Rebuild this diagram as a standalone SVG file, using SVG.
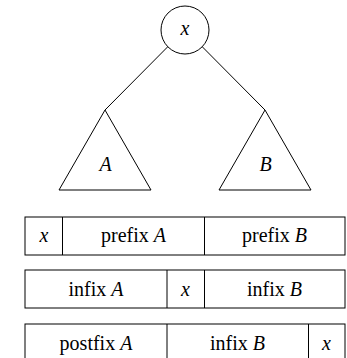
<svg xmlns="http://www.w3.org/2000/svg" width="347" height="358" viewBox="0 0 347 358" font-family="Liberation Serif, serif" font-size="20" text-anchor="middle">
<style>
.s{fill:none;stroke:#000;stroke-width:1}
.i{font-style:italic}
</style>
<rect width="347" height="358" fill="#fff"/>
<g id="connectors">
<line class="s" x1="105" y1="110" x2="167.5" y2="47"/>
<line class="s" x1="265" y1="110" x2="202.5" y2="47"/>
</g>
<g id="root">
<circle class="s" cx="185" cy="30" r="24"/>
<text class="i" x="185" y="35">x</text>
</g>
<g id="treeA">
<polygon class="s" points="105,110 59,190 151,190"/>
<text class="i" x="105.5" y="171">A</text>
</g>
<g id="treeB">
<polygon class="s" points="265,110 219,190 311,190"/>
<text class="i" x="265.5" y="171">B</text>
</g>
<g id="prefix">
<rect class="s" x="25" y="217" width="320" height="38"/>
<line class="s" x1="62.5" y1="217" x2="62.5" y2="255"/>
<line class="s" x1="204.5" y1="217" x2="204.5" y2="255"/>
<text class="i" x="44" y="242">x</text>
<text x="133.5" y="242">prefix <tspan class="i">A</tspan></text>
<text x="274.5" y="242">prefix <tspan class="i">B</tspan></text>
</g>
<g id="infix">
<rect class="s" x="25" y="270" width="320" height="38"/>
<line class="s" x1="167" y1="270" x2="167" y2="308"/>
<line class="s" x1="204.5" y1="270" x2="204.5" y2="308"/>
<text x="96" y="295.5">infix <tspan class="i">A</tspan></text>
<text class="i" x="185.5" y="295.5">x</text>
<text x="274.5" y="295.5">infix <tspan class="i">B</tspan></text>
</g>
<g id="postfix">
<rect class="s" x="25" y="324" width="320" height="38"/>
<line class="s" x1="167" y1="324" x2="167" y2="362"/>
<line class="s" x1="308.5" y1="324" x2="308.5" y2="362"/>
<text x="96" y="349.5">postfix <tspan class="i">A</tspan></text>
<text x="237.5" y="349.5">infix <tspan class="i">B</tspan></text>
<text class="i" x="326.5" y="349.5">x</text>
</g>
</svg>
